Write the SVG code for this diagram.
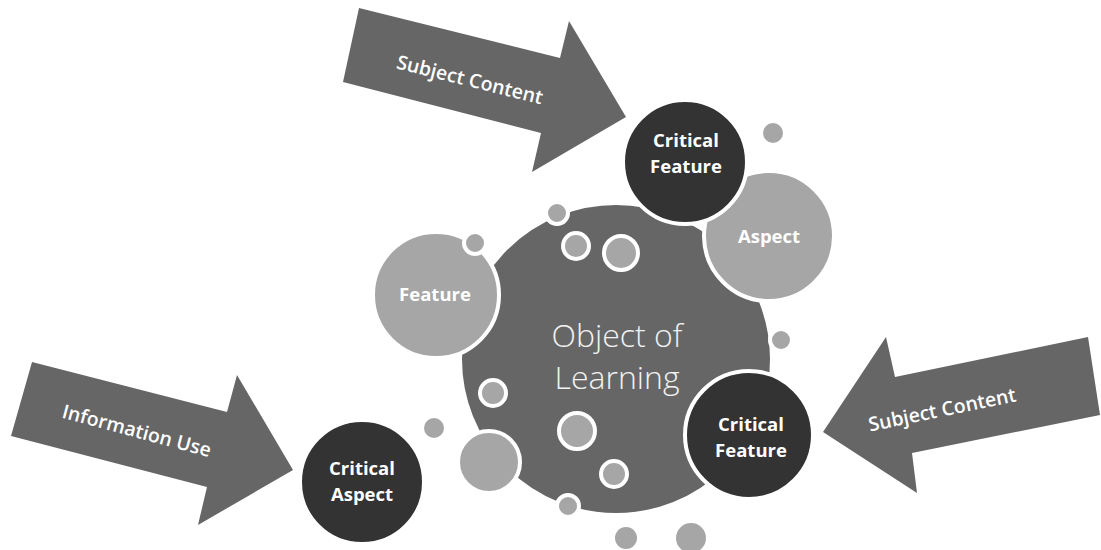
<svg xmlns="http://www.w3.org/2000/svg" width="1101" height="550" viewBox="0 0 1101 550">
  <style>
    .arrow { fill: #666666; }
    .arrow-label { fill: #ffffff; font-family: "Open Sans", "Liberation Sans", sans-serif; font-weight: 600; font-size: 19.5px; text-anchor: middle; dominant-baseline: central; }
    .core { fill: #666666; stroke: #ffffff; stroke-width: 4; }
    .dark { fill: #333333; stroke: #ffffff; stroke-width: 4; }
    .light { fill: #a6a6a6; stroke: #ffffff; stroke-width: 4; }
    .dot { fill: #a6a6a6; stroke: #ffffff; stroke-width: 4; }
    .dot-plain { fill: #a6a6a6; }
    .label { fill: #ffffff; font-family: "Open Sans", "Liberation Sans", sans-serif; font-weight: 700; font-size: 18.5px; text-anchor: middle; }
    .core-label { fill: #f2f2f2; font-family: "Open Sans", "Liberation Sans", sans-serif; font-weight: 300; font-size: 32px; text-anchor: middle; }
  </style>

  <!-- block arrows pointing at the critical circles -->
  <g id="connectors">
    <g id="arrow-subject-top">
      <polygon class="arrow" points="359,8 560,58 569,21 626,117 532,172 541,133 343,82"/>
      <text class="arrow-label" transform="translate(470,79) rotate(14)">Subject Content</text>
    </g>
    <g id="arrow-subject-right">
      <polygon class="arrow" points="1088,337 895,377 886,337 823,432 917,493 912,453 1100,415"/>
      <text class="arrow-label" transform="translate(942,409) rotate(-11.7)">Subject Content</text>
    </g>
    <g id="arrow-information-use">
      <polygon class="arrow" points="32,362 227,412 237,375 293,470 198,525 207,487 11,436"/>
      <text class="arrow-label" transform="translate(137,430) rotate(15)">Information Use</text>
    </g>
  </g>

  <!-- central object of learning -->
  <g id="object-of-learning">
    <circle class="core" cx="616" cy="359" r="156"/>
    <text class="core-label" x="617" y="347">Object of</text>
    <text class="core-label" x="617" y="389">Learning</text>
  </g>

  <!-- scattered small circles -->
  <g id="bubbles">
    <circle class="dot" cx="557" cy="213" r="11"/>
    <circle class="dot" cx="576" cy="246" r="13"/>
    <circle class="dot" cx="621" cy="253" r="17"/>
    <circle class="dot-plain" cx="773" cy="133" r="10"/>
    <circle class="dot" cx="781" cy="340" r="11"/>
    <circle class="dot" cx="493" cy="393" r="13"/>
    <circle class="dot" cx="577" cy="431" r="18"/>
    <circle class="dot" cx="489" cy="462" r="31"/>
    <circle class="dot-plain" cx="434" cy="428" r="10"/>
    <circle class="dot" cx="614" cy="474" r="13"/>
    <circle class="dot" cx="568" cy="506" r="11"/>
    <circle class="dot-plain" cx="626" cy="538" r="11"/>
    <circle class="dot-plain" cx="691" cy="538" r="15"/>
  </g>

  <g id="feature">
    <circle class="light" cx="436" cy="295" r="63"/>
    <text class="label" x="435" y="301">Feature</text>
  </g>

  <!-- bubble sitting on the rim of the Feature circle -->
  <circle id="bubble-feature-rim" class="dot" cx="475" cy="243" r="11"/>

  <g id="aspect">
    <circle class="light" cx="769" cy="236" r="65"/>
    <text class="label" x="769" y="243">Aspect</text>
  </g>

  <g id="critical-feature-top">
    <circle class="dark" cx="685" cy="162" r="62"/>
    <text class="label" x="686" y="147">Critical</text>
    <text class="label" x="686" y="173">Feature</text>
  </g>

  <g id="critical-feature-right">
    <circle class="dark" cx="749" cy="435" r="64"/>
    <text class="label" x="751" y="431">Critical</text>
    <text class="label" x="751" y="457">Feature</text>
  </g>

  <g id="critical-aspect">
    <circle class="dark" cx="362" cy="482" r="62"/>
    <text class="label" x="362" y="475">Critical</text>
    <text class="label" x="362" y="501">Aspect</text>
  </g>
</svg>
